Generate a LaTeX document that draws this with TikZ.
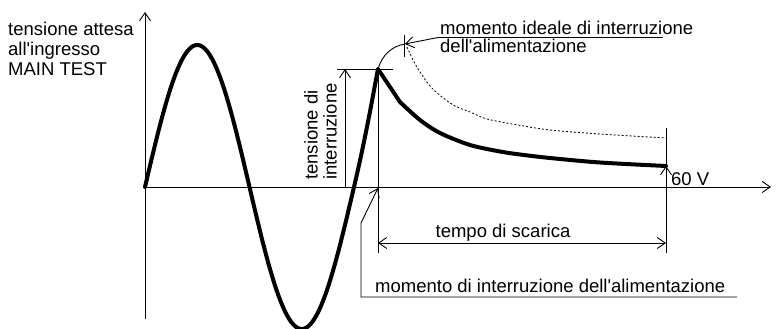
\documentclass[tikz,border=0pt]{standalone}
\usepackage{fontspec}
\setmainfont{Liberation Sans}
\usetikzlibrary{arrows.meta}
\begin{document}
\begin{tikzpicture}[x=1pt,y=-1pt,
  thinline/.style={line width=0.9pt},
  wave/.style={line width=4pt, line join=round, line cap=round},
  dotline/.style={line width=0.8pt, dash pattern=on 2pt off 2pt},
  arr/.style={-{Straight Barb[length=8pt,width=11pt]}},
  lbl/.style={font=\fontsize{18.5}{20}\selectfont, inner sep=0pt}]
\useasboundingbox (0,0) rectangle (776,329);
% key points
\coordinate (O) at (145,187);
\coordinate (Ytop) at (145,12);
\coordinate (Ybot) at (145,319);
\coordinate (Xend) at (771,187);
\coordinate (P) at (378,69);
\coordinate (Pb) at (378,253);
\coordinate (Hl) at (337,69);
\coordinate (Hr) at (393,69);
\coordinate (Db) at (345,187);
\coordinate (Dt) at (345,69);
\coordinate (E) at (666,166);
\coordinate (Et) at (666,128);
\coordinate (Eb) at (666,253);
\coordinate (E0) at (666,187);
\coordinate (Tl) at (378,243);
\coordinate (Tr) at (666,243);
\coordinate (I0) at (378,188);
\coordinate (Ik) at (361,223);
\coordinate (Ib) at (361,297);
\coordinate (Ie) at (737,297);
\coordinate (M) at (405,44);
\coordinate (Mt) at (404,35);
\coordinate (Mb) at (404,57);
\coordinate (U0) at (438,37.5);
\coordinate (U1) at (663,37.5);
% axes
\draw[thinline, arr] (Ybot) -- (Ytop);
\draw[thinline, arr] (O) -- (Xend);
% waveform
\draw[wave] plot[domain=0:360, samples=120] ({145+\x/360*209}, {187-142*sin(\x)})
  .. controls (366,136) and (373,95) .. (P)
  -- plot[smooth] coordinates {(400,102) (420,120) (440,133) (470,145) (500,151.5) (520,154.5) (550,158) (600,162.5) (666,166)};
% ideal discharge
\draw[dotline] plot[smooth] coordinates {(407,47) (413,60) (420,72) (430,86) (442,97) (455,106) (470,112) (487,119) (518,125) (550,130) (600,134) (666,138)};
% construction lines
\draw[thinline] (Hl) -- (Hr);
\draw[thinline] (P) -- (Pb);
\draw[thinline] (Et) -- (Eb);
\draw[thinline, arr] (Db) -- (Dt);
\draw[thinline, arr] (E0) -- (E);
\draw[thinline, {Straight Barb[length=8pt,width=11pt]}-{Straight Barb[length=8pt,width=11pt]}] (Tl) -- (Tr);
% leader: momento di interruzione
\draw[thinline, arr] (Ie) -- (Ib) -- (Ik) -- (I0);
% leader: momento ideale
\draw[thinline] (P) .. controls (382,55) and (392,46) .. (M);
\draw[thinline, arr] (U0) -- (M);
\draw[thinline] (Mt) -- (Mb);
\draw[thinline] (U0) -- (U1);
% labels
\node[lbl, align=left, anchor=south west, font=\fontsize{18.5}{20}\selectfont] (ylab) at (8,76) {tensione attesa\\all\textquotesingle ingresso\\MAIN TEST};
\node[lbl, align=left, anchor=south west, font=\fontsize{18.5}{18}\selectfont] (ideal) at (440,53) {momento ideale di interruzione\\dell\textquotesingle alimentazione};
\node[lbl, anchor=base] (tsc) at (503,237) {tempo di scarica};
\node[lbl, anchor=base west] (mom) at (375,292) {momento di interruzione dell\textquotesingle alimentazione};
\node[lbl, anchor=base west] (v60) at (671,185) {60 V};
\node[lbl, rotate=90, align=left, anchor=south west, font=\fontsize{18.5}{19}\selectfont] (tdi) at (337,180) {tensione di\\interruzione};
\end{tikzpicture}
\end{document}
